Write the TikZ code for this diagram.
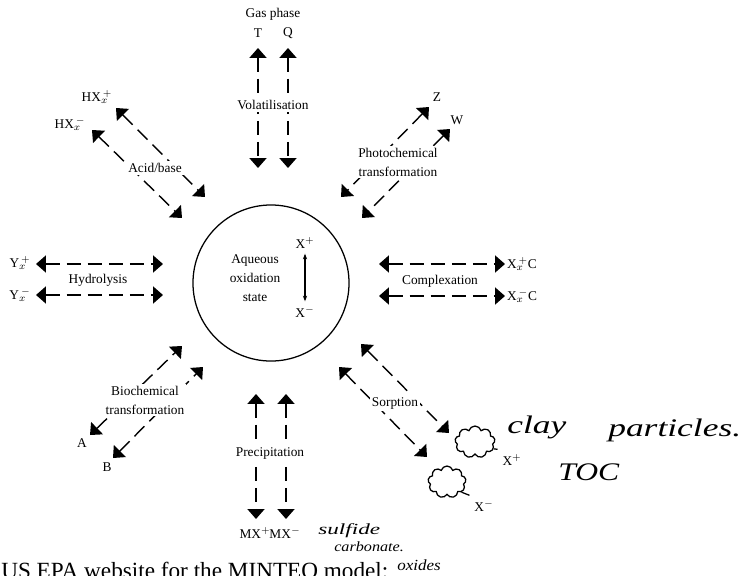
\documentclass[tikz,border=0pt]{standalone}
\usepackage{fontspec}
\setmainfont{Liberation Serif}
\usepackage{tikz}
\usetikzlibrary{arrows.meta,shapes.symbols}

\newcommand\hand[1]{\fontsize{#1}{#1}\selectfont\itshape}

\begin{document}
\begin{tikzpicture}[x=0.025cm, y=-0.025cm, font=\fontsize{9.5}{13.5}\selectfont,
    flux/.style={line width=1pt, dash pattern=on 10pt off 5pt,
      {Triangle[length=7pt,width=12pt]}-{Triangle[length=7pt,width=12pt]}},
    proc/.style={fill=white, inner sep=1.5pt, align=center},
    clay/.style={draw, cloud, cloud puffs=9, cloud ignores aspect,
      line width=0.9pt, minimum height=0.8cm},
    note/.style={anchor=base west, inner sep=0pt}]
    \clip (0,0) rectangle (746,575);

    % aqueous phase
    \node[draw, circle, line width=0.9pt, minimum size=3.9cm] (aq) at (271,283) {};
    \node[align=center] (aqtxt) at (255,278) {Aqueous\\oxidation\\state};
    \node (xp) at (305,243) {X$^{+}$};
    \node (xm) at (305,312) {X$^{-}$};
    \draw[{Stealth[length=4pt]}-{Stealth[length=4pt]}, line width=0.8pt] (xp) -- (xm);

    % end labels
    \node (gas) at (273,14) {Gas phase};
    \node (T) at (258,33) {T};
    \node (Q) at (288,33) {Q};
    \node (hxp) at (97,97) {HX$_{x}^{\,+}$};
    \node (hxm) at (70,124) {HX$_{x}^{\,-}$};
    \node (Z) at (437,97) {Z};
    \node (W) at (457,120) {W};
    \node (yp) at (20,263) {Y$_{x}^{\,+}$};
    \node (ym) at (20,295) {Y$_{x}^{\,-}$};
    \node (xcp) at (522,264) {X$_{x}^{\,+}$C};
    \node (xcm) at (522,296) {X$_{x}^{\,-}$C};
    \node (A) at (82,443) {A};
    \node (B) at (107,467) {B};
    \node (mxp) at (255,533) {MX$^{+}$};
    \node (mxm) at (285,533) {MX$^{-}$};

    % arrow ends
    \coordinate (volTa) at (258,48);  \coordinate (volTb) at (258,168);
    \coordinate (volQa) at (288,48);  \coordinate (volQb) at (288,168);
    \coordinate (acidPa) at (116,108); \coordinate (acidPb) at (205,197);
    \coordinate (acidMa) at (92,130);  \coordinate (acidMb) at (182,218);
    \coordinate (photoZa) at (429,107); \coordinate (photoZb) at (341,197);
    \coordinate (photoWa) at (450,129); \coordinate (photoWb) at (362,218);
    \coordinate (hydPa) at (36,264);  \coordinate (hydPb) at (163,264);
    \coordinate (hydMa) at (36,295);  \coordinate (hydMb) at (163,295);
    \coordinate (compPa) at (379,264); \coordinate (compPb) at (505,264);
    \coordinate (compMa) at (379,296); \coordinate (compMb) at (505,296);
    \coordinate (bioAa) at (90,435);  \coordinate (bioAb) at (182,346);
    \coordinate (bioBa) at (113,458); \coordinate (bioBb) at (203,367);
    \coordinate (precPa) at (256,394); \coordinate (precPb) at (256,519);
    \coordinate (precMa) at (286,394); \coordinate (precMb) at (286,519);
    \coordinate (sorPa) at (361,344); \coordinate (sorPb) at (449,433);
    \coordinate (sorMa) at (339,367); \coordinate (sorMb) at (427,457);

    \draw[flux] (volTa) -- (volTb);
    \draw[flux] (volQa) -- (volQb);
    \draw[flux] (acidPa) -- (acidPb);
    \draw[flux] (acidMa) -- (acidMb);
    \draw[flux] (photoZa) -- (photoZb);
    \draw[flux] (photoWa) -- (photoWb);
    \draw[flux] (hydPa) -- (hydPb);
    \draw[flux] (hydMa) -- (hydMb);
    \draw[flux] (compPa) -- (compPb);
    \draw[flux] (compMa) -- (compMb);
    \draw[flux] (bioAa) -- (bioAb);
    \draw[flux] (bioBa) -- (bioBb);
    \draw[flux] (precPa) -- (precPb);
    \draw[flux] (precMa) -- (precMb);
    \draw[flux] (sorPa) -- (sorPb);
    \draw[flux] (sorMa) -- (sorMb);

    % process names
    \node[proc] (vol) at (273,105) {Volatilisation};
    \node[proc] (acid) at (155,168) {Acid/base};
    \node[proc] (photo) at (398,162) {Photochemical\\transformation};
    \node[proc] (hyd) at (98,280) {Hydrolysis};
    \node[proc] (comp) at (440,281) {Complexation};
    \node[proc] (bio) at (145,400) {Biochemical\\transformation};
    \node[proc] (prec) at (270,453) {Precipitation};
    \node[proc] (sor) at (395,403) {Sorption};

    % particles
    \node[clay, minimum width=1cm] (clay1) at (475,442) {};
    \node[clay, minimum width=0.95cm] (clay2) at (447,482) {};
    \node (xa) at (512,460) {X$^{+}$};
    \node (xb) at (484,506) {X$^{-}$};
    \draw[line width=0.9pt] (clay1.-20) -- (xa.north west);
    \draw[line width=0.9pt] (clay2.-35) -- (xb.north west);

    % notes
    \node[note] (noteclay) at (507,433) {\scalebox{1.4}[1]{\hand{18}clay}};
    \node[note] (notepart) at (608,436) {\scalebox{1.4}[1]{\hand{18}particles.}};
    \node[note] (notetoc) at (558,480) {\scalebox{1.25}[1]{\hand{18}TOC}};
    \node[note] (notesulf) at (318,534) {\scalebox{1.5}[1]{\hand{11}sulfide}};
    \node[note] (notecarb) at (334,551) {\scalebox{1.15}[1]{\hand{10}carbonate.}};
    \node[note] (noteox) at (397,570) {\scalebox{1.1}[1]{\hand{11}oxides}};
    \node[anchor=base west, inner sep=0pt, font=\fontsize{16.5}{18}\selectfont] (epa) at (1,578)
      {US EPA website for the MINTEQ model:};
\end{tikzpicture}
\end{document}
